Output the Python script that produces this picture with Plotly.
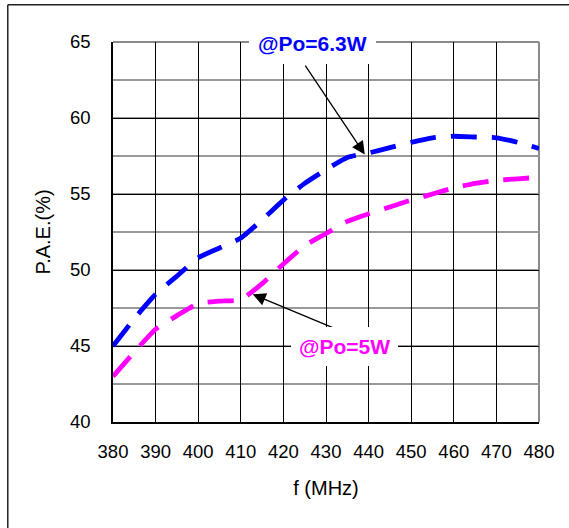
import plotly.graph_objects as go

freq_mhz = [380, 385, 390, 395, 400, 405, 410, 415, 420, 425, 430,
            435, 440, 445, 450, 455, 460, 465, 470, 475, 480]
pae_6p3w = [45.0, 46.8, 48.4, 49.6, 50.8, 51.45, 52.1, 53.3, 54.6, 55.7, 56.6,
            57.4, 57.7, 58.05, 58.4, 58.7, 58.8, 58.75, 58.7, 58.4, 58.0]
pae_5w = [43.0, 44.6, 46.1, 47.0, 47.8, 47.95, 48.05, 49.1, 50.4, 51.6, 52.4,
          53.2, 53.7, 54.15, 54.6, 55.0, 55.4, 55.7, 55.9, 56.0, 56.1]

x_ticks = [380, 390, 400, 410, 420, 430, 440, 450, 460, 470, 480]
y_ticks = [40, 45, 50, 55, 60, 65]

label_6p3w = "@Po=6.3W"
label_5w = "@Po=5W"

FONT = "Liberation Sans, Arial, sans-serif"

fig = go.Figure()
fig.add_trace(go.Scatter(
    x=freq_mhz, y=pae_6p3w, mode="lines", name=label_6p3w,
    line=dict(color="#0000FF", width=4.8, dash="26px,15px", shape="spline", smoothing=0.5),
    hoverinfo="skip",
))
fig.add_trace(go.Scatter(
    x=freq_mhz, y=pae_5w, mode="lines", name=label_5w,
    line=dict(color="#FF00FF", width=4.8, dash="26px,15px", shape="spline", smoothing=0.5),
    hoverinfo="skip",
))

fig.update_layout(
    width=569, height=528,
    margin=dict(l=112.7, r=29.7, t=42.3, b=106, pad=0),
    paper_bgcolor="white", plot_bgcolor="white",
    showlegend=False,
    font=dict(family=FONT, color="black"),
    xaxis=dict(
        range=[380, 480], tickvals=x_ticks, ticktext=[str(v) for v in x_ticks],
        showgrid=True, gridcolor="black", gridwidth=1.4,
        showline=True, linecolor="black", linewidth=1.6,
        zeroline=False, ticks="", tickfont=dict(size=18.5, family=FONT),
        ticklabelstandoff=12,
        title=dict(text="f (MHz)", font=dict(size=20, family=FONT), standoff=20),
    ),
    yaxis=dict(
        range=[40, 65], tickvals=y_ticks, ticktext=[str(v) for v in y_ticks],
        showgrid=True, gridcolor="black", gridwidth=1.4,
        minor=dict(dtick=2.5, tick0=40, showgrid=True, gridcolor="#999999", gridwidth=1.6, ticks=""),
        showline=True, linecolor="black", linewidth=1.6,
        zeroline=False, ticks="", tickfont=dict(size=18.5, family=FONT),
        ticklabelstandoff=17,
        title=dict(text="P.A.E.(%)", font=dict(size=20, family=FONT), standoff=14),
    ),
    shapes=[
        # grey top and right plot edges
        dict(type="line", xref="paper", yref="paper", x0=0, x1=1, y0=1, y1=1,
             line=dict(color="#8a8a8a", width=2), layer="between"),
        dict(type="line", xref="paper", yref="paper", x0=1, x1=1, y0=0, y1=1,
             line=dict(color="#8a8a8a", width=2), layer="between"),
        # outer frame (left and top)
        dict(type="line", xref="paper", yref="paper", x0=-0.247, x1=-0.247, y0=-0.3, y1=1.098,
             line=dict(color="#222222", width=1.5), layer="above"),
        dict(type="line", xref="paper", yref="paper", x0=-0.247, x1=1.1, y0=1.098, y1=1.098,
             line=dict(color="#222222", width=1.5), layer="above"),
    ],
    annotations=[
        dict(x=439.1, y=57.6, ax=424.9, ay=63.55, xref="x", yref="y", axref="x", ayref="y",
             text="", showarrow=True, arrowhead=2, arrowsize=2.0, arrowwidth=1.3,
             arrowcolor="black", standoff=0, startstandoff=0),
        dict(x=412.8, y=48.4, ax=434.6, ay=45.85, xref="x", yref="y", axref="x", ayref="y",
             text="", showarrow=True, arrowhead=2, arrowsize=2.0, arrowwidth=1.3,
             arrowcolor="black", standoff=0, startstandoff=0),
        dict(x=426.9, y=64.93, xref="x", yref="y", text="<b>" + label_6p3w + "</b>",
             showarrow=False, font=dict(size=21, color="#0000FF", family=FONT),
             bgcolor="white", borderpad=9, borderwidth=0),
        dict(x=434.4, y=44.95, xref="x", yref="y", text="<b>" + label_5w + "</b>",
             showarrow=False, font=dict(size=21, color="#FF00FF", family=FONT),
             bgcolor="white", borderpad=8, borderwidth=0),
    ],
)

fig.write_html("out.html")
